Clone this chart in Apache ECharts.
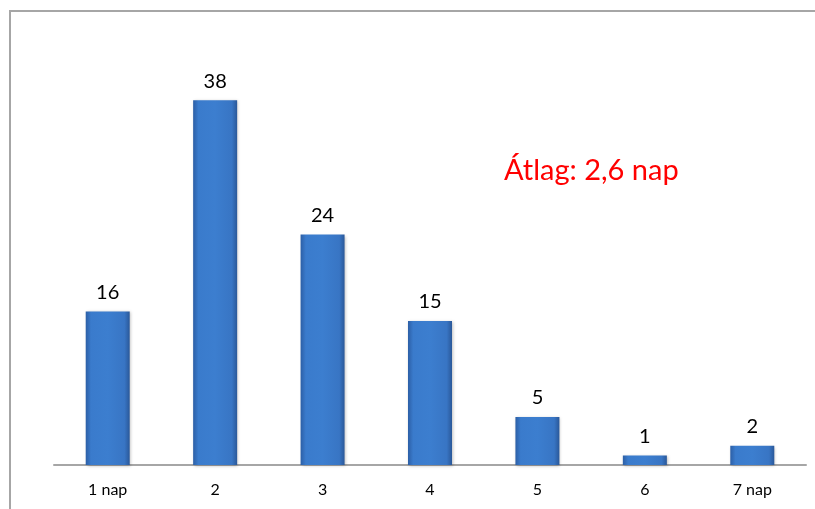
<!DOCTYPE html>
<html>
<head>
    <meta charset="utf-8">
    <title>ECharts</title>
    <script src="https://cdn.jsdelivr.net/npm/echarts@6/dist/echarts.min.js"></script>
    <style>
        body { margin: 0; background: #fff; }
    </style>
</head>
<body>
<div id="main" style="width: 815px;height:509px;"></div>
<script type="text/javascript">
    // napok szerinti megoszlás
    var categories = ['1 nap', '2', '3', '4', '5', '6', '7 nap'];
    var values = [16, 38, 24, 15, 5, 1, 2];
    var noteText = 'Átlag: 2,6 nap';

    var myChart = echarts.init(document.getElementById('main'));

    var barColor = new echarts.graphic.LinearGradient(0, 0, 1, 0, [
        {offset: 0, color: '#2c5fa6'},
        {offset: 0.12, color: '#3a7bcc'},
        {offset: 0.5, color: '#3c7ecf'},
        {offset: 0.88, color: '#3875c4'},
        {offset: 1, color: '#2a5899'}
    ]);

    var option = {
        animation: false,
        grid: {
            left: 54,
            right: 9,
            top: 81,
            bottom: 44
        },
        xAxis: {
            type: 'category',
            data: categories,
            axisLine: {lineStyle: {color: '#a6a6a6', width: 2}},
            axisTick: {show: false},
            axisLabel: {
                color: '#000',
                fontSize: 16,
                fontFamily: 'Lato',
                margin: 17
            }
        },
        yAxis: {
            type: 'value',
            min: 0,
            max: 40,
            show: false,
            splitLine: {show: false}
        },
        graphic: [
            {
                type: 'polyline',
                shape: {points: [[10, 520], [10, 11], [830, 11]]},
                style: {stroke: '#a6a6a6', lineWidth: 2, fill: null}
            },
            {
                type: 'text',
                left: 504,
                top: 156,
                style: {
                    text: noteText,
                    fill: '#ff0000',
                    fontSize: 29,
                    fontFamily: 'Lato'
                }
            }
        ],
        series: [
            {
                type: 'bar',
                data: values,
                barWidth: 44,
                itemStyle: {
                    color: barColor,
                    shadowColor: 'rgba(0,0,0,0.25)',
                    shadowBlur: 3,
                    shadowOffsetX: 1,
                    shadowOffsetY: 1
                },
                label: {
                    show: true,
                    position: 'top',
                    distance: 9,
                    color: '#000',
                    fontSize: 20,
                    fontFamily: 'Lato'
                }
            }
        ]
    };

    myChart.setOption(option);
</script>
</body>
</html>
